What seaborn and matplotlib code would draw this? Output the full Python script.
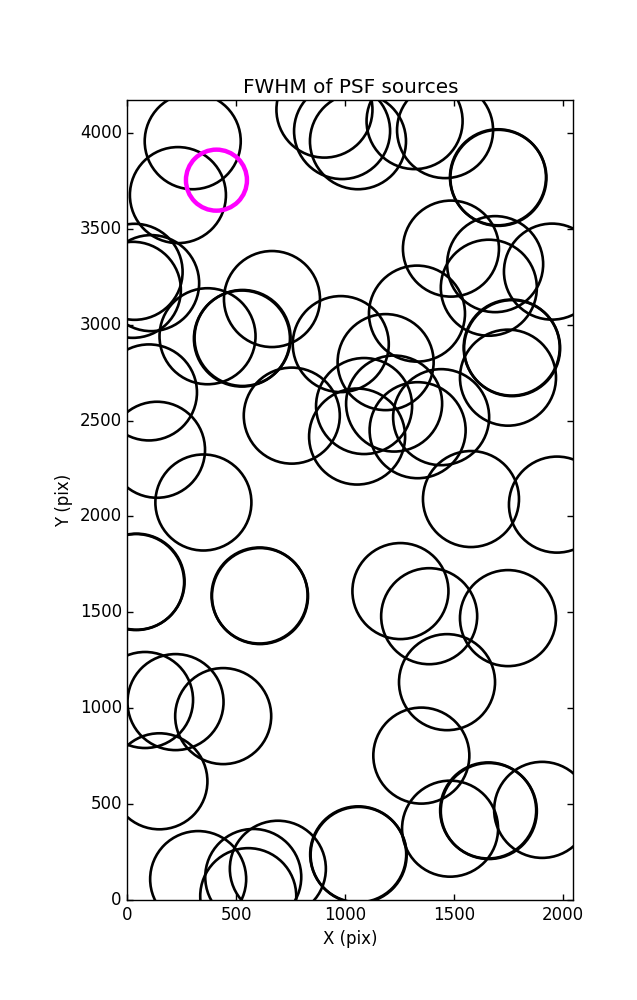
import matplotlib
matplotlib.use("Agg")
import matplotlib.pyplot as plt
import seaborn as sns
import pandas as pd

# Source positions (pixels)
src_x = [300, 232, 905, 986, 1059, 1319, 1459, 1704, 1702,
         1486, 1689, 1660, 1950, 1330, 33, 109, 25, 664, 368, 526, 529,
         980, 1186, 1767, 1765, 1748, 99, 755, 1087, 1225, 1055, 1333, 1441,
         136, 349, 1578, 1973,
         40, 42, 609, 607, 1254, 1386, 1748, 1468, 81, 221, 440, 147, 1350,
         325, 578, 691, 555, 1060, 1062, 1482, 1657, 1660, 1905]
src_y = [3957, 3676, 4122, 4010, 3957, 4062, 4015, 3766, 3769,
         3397, 3316, 3193, 3277, 3058, 3276, 3217, 3182, 3134, 2940, 2928, 2931,
         2899, 2805, 2878, 2881, 2724, 2647, 2526, 2576, 2589, 2417, 2450, 2518,
         2348, 2073, 2091, 2062,
         1658, 1660, 1585, 1588, 1611, 1480, 1470, 1136, 1043, 1032, 959, 619, 753,
         109, 120, 163, 20, 238, 235, 372, 467, 464, 470]

# Highlighted source
sel_x = [409]
sel_y = [3754]

XMAX, YMAX = 2048, 4172

plt.style.use("classic")
sns.set_style("ticks", {"xtick.direction": "in", "ytick.direction": "in"})
plt.rcParams["font.family"] = ["DejaVu Sans"]
plt.rcParams["text.color"] = "black"
plt.rcParams["axes.labelcolor"] = "black"

fig = plt.figure(figsize=(6.37, 10), dpi=100, facecolor="white")
ax = fig.add_axes([0.2, 0.1, 0.7, 0.8])

df = pd.DataFrame({"x": src_x, "y": src_y})
sel = pd.DataFrame({"x": sel_x, "y": sel_y})

sns.scatterplot(data=df, x="x", y="y", ax=ax, marker="o", s=4780,
                color="none", edgecolor="black", linewidth=1.9, legend=False)
sns.scatterplot(data=sel, x="x", y="y", ax=ax, marker="o", s=1930,
                color="none", edgecolor="#ff00ff", linewidth=3.2, legend=False,
                zorder=5)

ax.set_xlim(0, XMAX)
ax.set_ylim(0, YMAX)
ax.set_xticks([0, 500, 1000, 1500, 2000])
ax.set_yticks(range(0, 4001, 500))
for s in ax.spines.values():
    s.set_visible(True)
    s.set_linewidth(1.0)
    s.set_color("black")
ax.tick_params(direction="in", top=True, right=True, length=4, width=1,
               labelsize=12, colors="black")
ax.set_xlabel("X (pix)", fontsize=12, color="black")
ax.set_ylabel("Y (pix)", fontsize=12, color="black")
ax.set_title("FWHM of PSF sources", fontsize=14.4, color="black")
ax.set_facecolor("white")

fig.savefig("out.png", dpi=100, facecolor="white")
